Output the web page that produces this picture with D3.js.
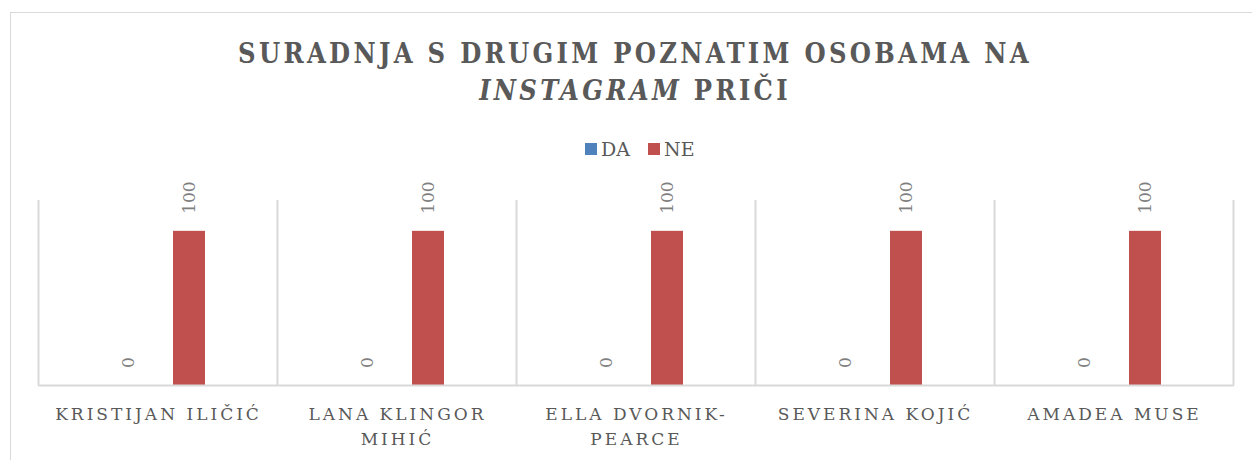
<!DOCTYPE html>
<html>
<head>
<meta charset="utf-8">
<script src="https://cdn.jsdelivr.net/npm/d3@7"></script>
<style>
  body { margin: 0; background: #fff; }
  text { font-family: "DejaVu Serif", "Liberation Serif", serif; fill: #595959; }
</style>
</head>
<body>
<svg id="chart" width="1252" height="460"></svg>
<script>
// data
const categories = [["KRISTIJAN ILIČIĆ"], ["LANA KLINGOR", "MIHIĆ"], ["ELLA DVORNIK-", "PEARCE"], ["SEVERINA KOJIĆ"], ["AMADEA MUSE"]];
const seriesNames = ["DA", "NE"];
const daValues = [0, 0, 0, 0, 0];
const neValues = [100, 100, 100, 100, 100];
const colors = ["#4F81BD", "#C0504D"];

const width = 1252, height = 460;
const plot = { left: 38, right: 1233, top: 200, bottom: 385 };

const svg = d3.select("#chart");

// chart frame
svg.append("rect")
  .attr("x", 10.5).attr("y", 12.5)
  .attr("width", 1260).attr("height", 470)
  .attr("fill", "none").attr("stroke", "#d9d9d9");

// title
const title = svg.append("text")
  .attr("text-anchor", "middle")
  .style("font-family", "'DejaVu Serif Condensed', 'DejaVu Serif', serif")
  .style("font-weight", "bold")
  .style("font-size", "27px")
  .style("letter-spacing", "3.3px");
title.append("tspan").attr("x", 635).attr("y", 63).text("SURADNJA S DRUGIM POZNATIM OSOBAMA NA");
const l2 = title.append("tspan").attr("x", 635).attr("y", 100);
l2.append("tspan").style("font-style", "italic").text("INSTAGRAM");
l2.append("tspan").text(" PRIČI");

// scales
const x0 = d3.scaleBand().domain(d3.range(categories.length)).range([plot.left, plot.right]).padding(0);
const y = d3.scaleLinear().domain([0, 120]).range([plot.bottom, plot.top]);

const barW = 32, barGap = 29;

// vertical separators
svg.append("g").selectAll("line")
  .data(d3.range(categories.length + 1))
  .join("line")
  .attr("x1", i => Math.round(plot.left + i * x0.bandwidth()) + 0.5)
  .attr("x2", i => Math.round(plot.left + i * x0.bandwidth()) + 0.5)
  .attr("y1", plot.top).attr("y2", plot.bottom)
  .attr("stroke", "#d9d9d9").attr("stroke-width", 2);

const groups = categories.map((c, i) => ({ i, vals: [daValues[i], neValues[i]] }));

const g = svg.append("g").selectAll("g")
  .data(groups).join("g")
  .attr("transform", d => `translate(${x0(d.i) + x0.bandwidth() / 2 + 1},0)`);

const barX = s => (s === 0 ? -(barGap / 2 + barW) : barGap / 2);

g.selectAll("rect")
  .data(d => d.vals)
  .join("rect")
  .attr("x", (v, s) => barX(s))
  .attr("width", barW)
  .attr("y", v => y(v))
  .attr("height", v => y(0) - y(v))
  .attr("fill", (v, s) => colors[s]);

// rotated value labels
g.selectAll("text.val")
  .data(d => d.vals)
  .join("text")
  .attr("class", "val")
  .attr("transform", (v, s) => `translate(${barX(s) + barW / 2 + 6},${y(v) - 17}) rotate(-90)`)
  .style("font-size", "17px")
  .style("fill", "#7f7f7f")
  .text(v => v);

// baseline
svg.append("line")
  .attr("x1", plot.left).attr("x2", plot.right + 1)
  .attr("y1", plot.bottom + 0.5).attr("y2", plot.bottom + 0.5)
  .attr("stroke", "#d9d9d9").attr("stroke-width", 2);

// category labels
g.append("text")
  .attr("text-anchor", "middle")
  .style("font-size", "17px")
  .style("letter-spacing", "3px")
  .selectAll("tspan")
  .data(d => categories[d.i])
  .join("tspan")
  .attr("x", 0)
  .attr("y", (t, j) => 420 + j * 25)
  .text(t => t);

// legend
const legend = svg.append("g").attr("transform", "translate(585,143)");
const items = legend.selectAll("g").data(seriesNames).join("g")
  .attr("transform", (d, i) => `translate(${i * 63},0)`);
items.append("rect").attr("width", 12).attr("height", 12).attr("fill", (d, i) => colors[i]);
items.append("text").attr("x", 16).attr("y", 13).style("font-size", "19px").text(d => d);
</script>
</body>
</html>
